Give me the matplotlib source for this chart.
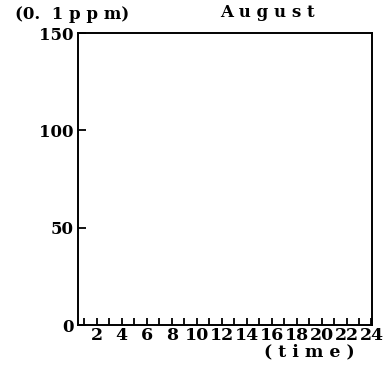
import matplotlib.pyplot as plt

hours = list(range(1, 25))
hour_labels = [str(h) if h % 2 == 0 else "" for h in hours]
y_ticks = [0, 50, 100, 150]
month = "August"

plt.rcParams['font.family'] = ['DejaVu Serif']

fig = plt.figure(figsize=(3.86, 3.67), dpi=100)
ax = fig.add_axes([0.202, 0.114, 0.762, 0.796])

ax.set_xlim(0.5, 24.05)
ax.set_ylim(0, 150)

ax.set_xticks(hours)
ax.set_xticklabels(hour_labels, fontsize=12.5, fontweight="bold")
ax.set_yticks(y_ticks)
ax.set_yticklabels([str(v) for v in y_ticks], fontsize=12, fontweight="bold")
ax.tick_params(axis="x", direction="in", length=5, width=1.3, pad=1)
ax.tick_params(axis="y", direction="in", length=6, width=1.3, pad=3)

for s in ax.spines.values():
    s.set_linewidth(1.4)

fig.text(0.04, 0.948, "(0.  1 p p m)", fontsize=12, fontweight="bold")
fig.text(0.57, 0.955, " ".join(month), fontsize=12, fontweight="bold")
fig.text(0.685, 0.03, "( t i m e )", fontsize=12.5, fontweight="bold")

fig.savefig("out.png", dpi=100)
